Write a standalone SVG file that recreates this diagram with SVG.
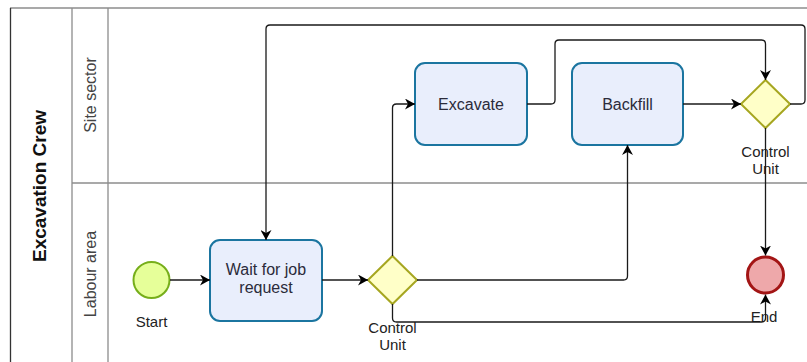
<svg xmlns="http://www.w3.org/2000/svg" width="807" height="362" viewBox="0 0 807 362">
<style>
.lane{stroke:#8c8c8c;stroke-width:1.3;fill:none}
.pool{stroke:#333;stroke-width:1.3;fill:none}
.task{fill:#E9EEFC;stroke:#1B75A0;stroke-width:2}
.gw{fill:#FFFFC8;stroke:#A6A620;stroke-width:2}
.tt{font-family:"Liberation Sans",Arial,sans-serif;font-size:16px;fill:#2b2b3a;text-anchor:middle}
.lbl{font-family:"Liberation Sans",Arial,sans-serif;font-size:15px;fill:#222;text-anchor:middle}
.hdr{font-family:"Liberation Sans",Arial,sans-serif;font-size:16px;fill:#444;text-anchor:middle}
.edge{fill:none;stroke:#1a1a1a;stroke-width:1.3}
</style>
<defs>
<marker id="arr" viewBox="0 0 10 11" refX="10" refY="5.5" markerWidth="10" markerHeight="11" markerUnits="userSpaceOnUse" orient="auto">
<path d="M0,0 L10,5.5 L0,11 L3,5.5 z" fill="#000"/>
</marker>
</defs>
<rect width="807" height="362" fill="#fff"/>
<g id="pool">
<line class="lane" x1="10" y1="8" x2="807" y2="8"/>
<line class="pool" x1="10.5" y1="8" x2="10.5" y2="362"/>
<line class="lane" x1="72" y1="8" x2="72" y2="362"/>
<line class="lane" x1="108" y1="8" x2="108" y2="362"/>
<line class="lane" x1="72" y1="183" x2="807" y2="183"/>
<text transform="translate(39,186) rotate(-90)" dominant-baseline="central" style="font-family:'Liberation Sans',Arial,sans-serif;font-size:19px;font-weight:bold;fill:#111;text-anchor:middle">Excavation Crew</text>
</g>
<g id="lane-site">
<text class="hdr" transform="translate(90,95) rotate(-90)" dominant-baseline="central">Site sector</text>
</g>
<g id="lane-labour">
<text class="hdr" transform="translate(90,274) rotate(-90)" dominant-baseline="central">Labour area</text>
</g>
<g id="start">
<circle cx="151.5" cy="280" r="18" fill="#E6FF99" stroke="#76AE1A" stroke-width="2"/>
<text class="lbl" x="151.5" y="327">Start</text>
</g>
<g id="wait">
<rect class="task" x="210" y="240" width="112" height="81" rx="10"/>
<text class="tt" x="266" y="275">Wait for job</text>
<text class="tt" x="266" y="293">request</text>
</g>
<g id="gateway1">
<polygon class="gw" points="392.5,256 417,280 392.5,304 368,280"/>
<text class="lbl" x="392.5" y="333">Control</text>
<text class="lbl" x="392.5" y="350">Unit</text>
</g>
<g id="excavate">
<rect class="task" x="415" y="63" width="112" height="82" rx="10"/>
<text class="tt" x="471" y="109.5">Excavate</text>
</g>
<g id="backfill">
<rect class="task" x="572" y="63" width="111" height="82" rx="10"/>
<text class="tt" x="627.5" y="109.5">Backfill</text>
</g>
<g id="gateway2">
<polygon class="gw" points="765.5,80 790,104 765.5,128 741,104"/>
<text class="lbl" x="765.5" y="157">Control</text>
<text class="lbl" x="765.5" y="173.5">Unit</text>
</g>
<g id="end">
<circle cx="765.5" cy="275" r="18" fill="#EEA8AA" stroke="#A31515" stroke-width="3"/>
<text class="lbl" x="764" y="322">End</text>
</g>
<g id="connectors">
<path class="edge" marker-end="url(#arr)" d="M170,280 L210,280"/>
<path class="edge" marker-end="url(#arr)" d="M322,280 L368,280"/>
<path class="edge" marker-end="url(#arr)" d="M392.5,256 L392.5,108 Q392.5,104 396.5,104 L415,104"/>
<path class="edge" marker-end="url(#arr)" d="M417,280 L623.5,280 Q627.5,280 627.5,276 L627.5,145"/>
<path class="edge" marker-end="url(#arr)" d="M392.5,304 L392.5,318 Q392.5,322 396.5,322 L761.5,322 Q765.5,322 765.5,318 L765.5,294.5"/>
<path class="edge" marker-end="url(#arr)" d="M527,104 L551,104 Q555,104 555,100 L555,44 Q555,40 559,40 L761.5,40 Q765.5,40 765.5,44 L765.5,80"/>
<path class="edge" marker-end="url(#arr)" d="M683,104 L741,104"/>
<path class="edge" marker-end="url(#arr)" d="M765.5,128 L765.5,255.5"/>
<path class="edge" marker-end="url(#arr)" d="M790,104 L801,104 Q805,104 805,100 L805,29 Q805,25 801,25 L270,25 Q266,25 266,29 L266,240"/>
</g>
</svg>
